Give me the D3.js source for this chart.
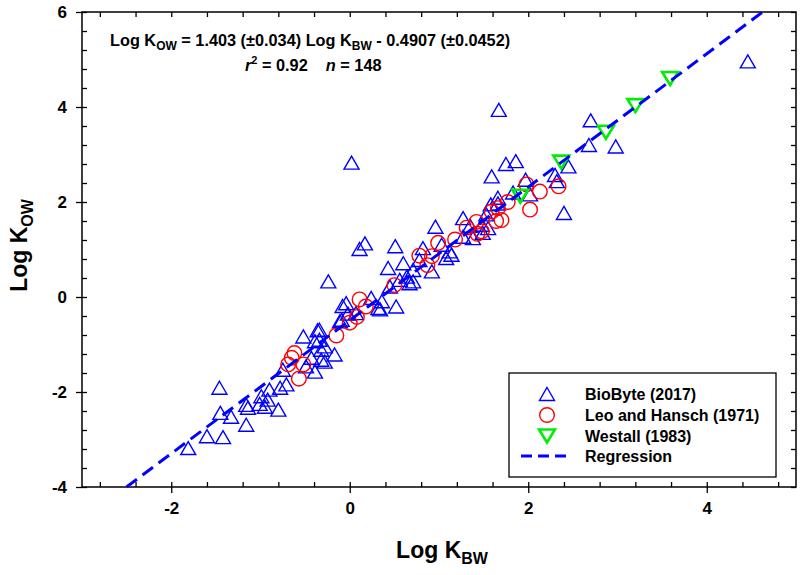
<!DOCTYPE html>
<html><head><meta charset="utf-8">
<script src="https://cdn.jsdelivr.net/npm/d3@7"></script>
<style>
body{margin:0;background:#fff}
text{font-family:"Liberation Sans",Arial,sans-serif;font-weight:bold;fill:#000}
</style>
</head><body><svg id="c" width="800" height="575"></svg>
<script>
// ---- data (Log K_BW, Log K_OW) ----
const bioByte = [
[-1.81,-3.18],[-1.60,-2.93],[-1.42,-2.95],[-1.46,-1.91],[-1.45,-2.44],[-1.33,-2.52],
[-1.16,-2.69],[-1.16,-2.27],[-1.14,-2.33],[-1.01,-2.25],[-0.99,-2.09],[-0.95,-2.31],
[-0.92,-2.16],[-0.80,-2.37],[-0.90,-1.95],[-0.78,-1.91],[-0.71,-1.84],[-0.75,-1.53],
[-0.52,-0.83],[-0.49,-1.46],[-0.43,-1.28],[-0.39,-1.57],[-0.39,-0.93],[-0.36,-0.70],
[-0.34,-0.69],[-0.34,-0.90],[-0.32,-1.11],[-0.32,-1.32],[-0.28,-1.04],[-0.28,-1.36],
[-0.17,-1.21],[-0.24,0.33],[-0.11,-0.51],[-0.09,-0.48],[-0.08,-0.19],[-0.04,-0.13],
[-0.02,-0.35],[0.02,2.83],[0.07,-0.34],[0.11,1.01],[0.17,1.13],[0.24,-0.02],
[0.32,-0.23],[0.36,-0.09],[0.34,-0.26],[0.43,0.61],[0.45,0.22],[0.51,1.07],
[0.52,-0.20],[0.56,0.36],[0.60,0.71],[0.64,0.43],[0.67,0.29],[0.71,0.33],
[0.71,0.57],[0.78,0.78],[0.82,1.03],[0.92,0.54],[0.96,1.48],[1.03,1.10],
[1.08,0.82],[1.12,0.96],[1.14,0.89],[1.27,1.66],[1.27,1.27],[1.35,1.50],
[1.38,1.24],[1.48,1.52],[1.49,1.35],[1.53,1.74],[1.55,1.45],[1.58,1.95],
[1.59,2.54],[1.66,2.09],[1.66,1.97],[1.67,3.94],[1.75,2.80],[1.86,2.86],
[1.83,2.20],[1.97,2.47],[2.02,2.16],[2.30,2.57],[2.32,2.44],[2.40,1.77],
[2.45,2.75],[2.68,3.20],[2.70,3.72],[2.98,3.17],[4.46,4.96]
];
const leoHansch = [
[-0.69,-1.42],[-0.62,-1.18],[-0.65,-1.28],[-0.52,-1.42],[-0.57,-1.72],[-0.15,-0.81],[0.00,-0.54],
[0.08,-0.42],[0.11,-0.05],[0.18,-0.20],[0.50,0.25],[0.78,0.87],[0.87,0.67],
[0.92,0.86],[0.99,1.14],[1.18,1.21],[1.31,1.46],[1.42,1.58],[1.43,1.33],
[1.48,1.38],[1.59,1.80],[1.64,1.60],[1.66,1.87],[1.70,1.62],[1.77,2.00],
[1.98,2.37],[2.02,1.84],[2.13,2.22],[2.34,2.33]
];
const westall = [[1.91,2.12],[2.37,2.84],[2.87,3.47],[3.20,4.03],[3.59,4.60]];
const regSlope = 1.403, regIntercept = -0.4907;
const xMajorTicks = [-2,0,2,4];
const yMajorTicks = [-4,-2,0,2,4,6];
const legendLabels = ["BioByte (2017)","Leo and Hansch (1971)","Westall (1983)","Regression"];

// ---- layout ----
const svg = d3.select("#c");
const L=82,R=796,T=12,B=487;
const x = d3.scaleLinear().domain([-3,5]).range([L,R]);
const y = d3.scaleLinear().domain([-4,6]).range([B,T]);
const xMinor = d3.range(20).map(i=>+(-2.8+0.4*i).toFixed(2));
const yMinor = d3.range(26).map(i=>+(-4+0.4*i).toFixed(2));

function clean(g){g.select(".domain").remove();g.selectAll("line").attr("stroke","#000").attr("stroke-width",1.3);}
svg.append("g").attr("transform",`translate(0,${B})`).call(d3.axisBottom(x).tickValues(xMinor).tickSize(-5).tickFormat("")).call(clean);
svg.append("g").attr("transform",`translate(0,${T})`).call(d3.axisTop(x).tickValues(xMinor).tickSize(-5).tickFormat("")).call(clean);
svg.append("g").attr("transform",`translate(${L},0)`).call(d3.axisLeft(y).tickValues(yMinor).tickSize(-5).tickFormat("")).call(clean);
svg.append("g").attr("transform",`translate(${R},0)`).call(d3.axisRight(y).tickValues(yMinor).tickSize(-5).tickFormat("")).call(clean);
svg.append("g").attr("transform",`translate(0,${B})`)
  .call(d3.axisBottom(x).tickValues(xMajorTicks).tickSize(6).tickPadding(9).tickFormat(d=>String(d))).call(clean);
svg.append("g").attr("transform",`translate(${L},0)`)
  .call(d3.axisLeft(y).tickValues(yMajorTicks).tickSize(6).tickPadding(9).tickFormat(d=>String(d))).call(clean);
svg.selectAll(".tick text").attr("font-size",17).attr("font-family","Liberation Sans, Arial, sans-serif").attr("font-weight","bold").attr("fill","#000");

svg.append("rect").attr("x",L).attr("y",T).attr("width",R-L).attr("height",B-T)
  .attr("fill","none").attr("stroke","#000").attr("stroke-width",1.5);

const plot = svg.append("g");
function triUp(cx,cy,s,h){return `M${cx},${cy-h/2}L${cx+s/2},${cy+h/2}L${cx-s/2},${cy+h/2}Z`;}
function triDown(cx,cy,s,h){return `M${cx-s/2},${cy-h/2}L${cx+s/2},${cy-h/2}L${cx},${cy+h/2}Z`;}

plot.selectAll("path.bb").data(bioByte).join("path").attr("class","bb")
  .attr("d",d=>triUp(x(d[0]),y(d[1]),15,13)).attr("fill","none").attr("stroke","#0000ff").attr("stroke-width",1.4);
plot.selectAll("circle.lh").data(leoHansch).join("circle").attr("class","lh")
  .attr("cx",d=>x(d[0])).attr("cy",d=>y(d[1])).attr("r",7.3).attr("fill","none").attr("stroke","#ff0000").attr("stroke-width",1.4);
plot.selectAll("path.wh").data(westall).join("path").attr("class","wh")
  .attr("d",d=>triDown(x(d[0]),y(d[1]),16,13)).attr("fill","none").attr("stroke","#00ee00").attr("stroke-width",2.6);

const yr = y.domain();
const regPts = yr.map(v=>[(v-regIntercept)/regSlope, v]);
plot.append("line").attr("x1",x(regPts[0][0])).attr("y1",y(regPts[0][1]))
  .attr("x2",x(regPts[1][0])).attr("y2",y(regPts[1][1]))
  .attr("stroke","#0000ff").attr("stroke-width",3).attr("stroke-dasharray","13,7");

// equation
const eq = svg.append("text").attr("x",110).attr("y",46).attr("font-size",16.3);
eq.append("tspan").text("Log K");
eq.append("tspan").attr("font-size",12).attr("dy",4).text("OW");
eq.append("tspan").attr("dy",-4).text(" = 1.403 (±0.034) Log K");
eq.append("tspan").attr("font-size",12).attr("dy",4).text("BW");
eq.append("tspan").attr("dy",-4).text(" - 0.4907 (±0.0452)");
const eq2 = svg.append("text").attr("x",245).attr("y",71).attr("font-size",16.3).style("white-space","pre");
eq2.append("tspan").attr("font-style","italic").text("r");
eq2.append("tspan").attr("font-size",11).attr("dy",-7).text("2");
eq2.append("tspan").attr("dy",7).text(" = 0.92    ");
eq2.append("tspan").attr("font-style","italic").text("n");
eq2.append("tspan").text(" = 148");

// axis titles
const xt = svg.append("text").attr("x",(L+R)/2+3).attr("y",558).attr("text-anchor","middle").attr("font-size",23);
xt.append("tspan").text("Log K");
xt.append("tspan").attr("font-size",16).attr("dy",6).text("BW");
const yt = svg.append("text").attr("transform",`translate(27,${(T+B)/2-4}) rotate(-90)`).attr("text-anchor","middle").attr("font-size",23);
yt.append("tspan").text("Log K");
yt.append("tspan").attr("font-size",16).attr("dy",6).text("OW");

// legend
const lg = svg.append("g");
lg.append("rect").attr("x",509).attr("y",373).attr("width",267).attr("height",104)
  .attr("fill","#fff").attr("stroke","#000").attr("stroke-width",1.3);
const rowY = [394,415,436,456];
const sx = 547;
lg.append("path").attr("d",triUp(sx,rowY[0],15,13)).attr("fill","none").attr("stroke","#0000ff").attr("stroke-width",1.4);
lg.append("circle").attr("cx",sx).attr("cy",rowY[1]).attr("r",7.3).attr("fill","none").attr("stroke","#ff0000").attr("stroke-width",1.4);
lg.append("path").attr("d",triDown(sx,rowY[2],16,13)).attr("fill","none").attr("stroke","#00ee00").attr("stroke-width",2.6);
lg.append("line").attr("x1",521).attr("x2",567).attr("y1",rowY[3]).attr("y2",rowY[3])
  .attr("stroke","#0000ff").attr("stroke-width",3).attr("stroke-dasharray","11,6");
lg.selectAll("text.lt").data(legendLabels).join("text").attr("class","lt")
  .attr("x",585).attr("y",(d,i)=>rowY[i]+6).attr("font-size",16).text(d=>d);
</script>
</body></html>
